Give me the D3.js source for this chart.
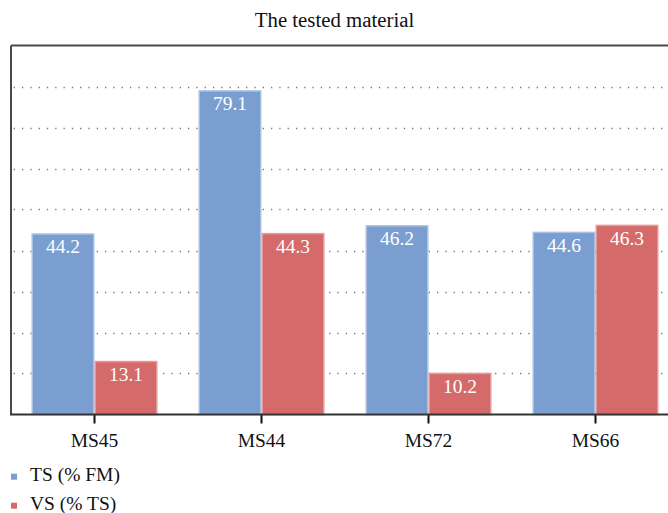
<!DOCTYPE html>
<html><head><meta charset="utf-8">
<script src="https://cdn.jsdelivr.net/npm/d3@7"></script>
<style>body{margin:0;background:#fff}svg{display:block}</style>
</head><body>
<script>
const categories = ["MS45", "MS44", "MS72", "MS66"];
const seriesNames = ["TS (% FM)", "VS (% TS)"];
const tsValues = [44.2, 79.1, 46.2, 44.6];
const vsValues = [13.1, 44.3, 10.2, 46.3];
const gridTicks = [10, 20, 30, 40, 50, 60, 70, 80];
const chartTitle = "The tested material";

(function () {
const W = 668, H = 513;
const font = "'Liberation Serif', 'Times New Roman', serif";
const fs = 19.5;
const colors = ["#7a9ed0", "#d46a69"];
const strokes = ["#a9c2e4", "#e59a99"];

const svg = d3.select("body").append("svg").attr("width", W).attr("height", H);

const pLeft = 11, pRight = 679, pTop = 45.5, pBottom = 414.5;
const x = d3.scaleBand().domain(categories).range([pLeft, pRight]).paddingInner(0.245).paddingOuter(0.1225);
const x1 = d3.scaleBand().domain([0, 1]).range([0, x.bandwidth()]);
const y = d3.scaleLinear().domain([0, 90]).range([pBottom, pTop]);

// title
svg.append("text").attr("x", 334.5).attr("y", 27.3).attr("text-anchor", "middle")
  .attr("font-family", font).attr("font-size", 20.8).attr("fill", "#111").text(chartTitle);

// grid
svg.append("g").selectAll("line").data(gridTicks).join("line")
  .attr("x1", pLeft + 1).attr("x2", W).attr("y1", d => Math.round(y(d)) + 0.5).attr("y2", d => Math.round(y(d)) + 0.5)
  .attr("stroke", "#777").attr("stroke-width", 1.3).attr("stroke-dasharray", "1.3,7")
  .attr("stroke-dashoffset", -10);

// bars
const data = categories.map((c, i) => ({ c, vals: [tsValues[i], vsValues[i]] }));
const g = svg.append("g");
data.forEach(d => {
  d.vals.forEach((v, s) => {
    const bx = x(d.c) + x1(s), bw = x1.bandwidth();
    g.append("rect").attr("x", bx + 0.75).attr("y", y(v) + 0.75)
      .attr("width", bw - 1.5).attr("height", pBottom - y(v) - 0.75)
      .attr("fill", colors[s]).attr("stroke", strokes[s]).attr("stroke-width", 1.5);
    g.append("text").attr("x", bx + bw / 2).attr("y", y(v) + 20).attr("text-anchor", "middle")
      .attr("font-family", font).attr("font-size", fs).attr("fill", "#fff").text(v.toFixed(1));
  });
});

// frame: left and top borders
svg.append("line").attr("x1", pLeft).attr("x2", pLeft).attr("y1", pTop).attr("y2", pBottom)
  .attr("stroke", "#4a4a4a").attr("stroke-width", 2);
svg.append("line").attr("x1", pLeft).attr("x2", W).attr("y1", pTop).attr("y2", pTop)
  .attr("stroke", "#4a4a4a").attr("stroke-width", 2);

// x axis
const xAxis = svg.append("g").attr("transform", `translate(0,${pBottom})`)
  .call(d3.axisBottom(x).tickSize(9).tickPadding(0));
xAxis.select(".domain").remove();
xAxis.append("line").attr("x1", pLeft - 1).attr("x2", W).attr("y1", 0).attr("y2", 0)
  .attr("stroke", "#333").attr("stroke-width", 2);
xAxis.selectAll(".tick line").attr("stroke", "#111").attr("stroke-width", 2);
xAxis.selectAll(".tick text").attr("y", 32).attr("dy", null)
  .attr("font-family", font).attr("font-size", fs).attr("fill", "#111");

// legend
const lg = svg.append("g");
seriesNames.forEach((n, i) => {
  const ly = 476.7 + i * 29;
  lg.append("rect").attr("x", 11).attr("y", ly - 3).attr("width", 6).attr("height", 6).attr("fill", colors[i]);
  lg.append("text").attr("x", 30).attr("y", ly + 4.6).attr("font-family", font).attr("font-size", fs)
    .attr("fill", "#111").text(n);
});
})();
</script>
</body></html>
